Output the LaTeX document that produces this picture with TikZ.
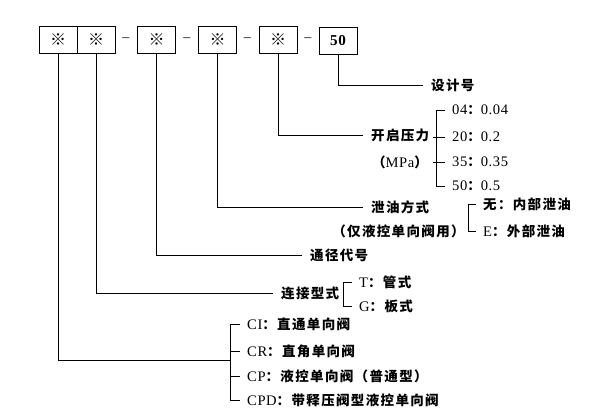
\documentclass[tikz,border=0pt]{standalone}
\usepackage{fontspec}
\setmainfont[LetterSpace=4,Scale=1.08]{Liberation Serif}
\newfontfamily\cjk[LetterSpace=10]{Noto Sans CJK SC}
\usetikzlibrary{positioning}
\newcommand{\zh}[1]{{\cjk\bfseries #1}}
\tikzset{
  cell/.style={draw=black, line width=0.9pt, minimum width=38pt, minimum height=27pt, inner sep=0pt, font=\fontsize{16}{17}\selectfont},
  dsh/.style={inner sep=0pt, font=\fontsize{13}{14}\selectfont},
  lbl/.style={anchor=west, inner xsep=8pt, inner ysep=1pt, font=\fontsize{13.5}{15}\selectfont},
  itm/.style={anchor=west, inner xsep=7pt, inner ysep=1pt, font=\fontsize{13.5}{15}\selectfont},
  ln/.style={draw=black, line width=0.8pt}
}

\begin{document}
\begin{tikzpicture}[x=1pt, y=-1pt]
  \useasboundingbox (0,0) rectangle (592,420);

  % Code boxes
  \node[cell] (b1) at (58,40) {\zh{※}};
  \node[cell] (b2) at (96,40) {\zh{※}};
  \node[cell] (b3) at (156.5,40) {\zh{※}};
  \node[cell] (b4) at (217.5,40) {\zh{※}};
  \node[cell] (b5) at (278,40) {\zh{※}};
  \node[cell, font=\bfseries\fontsize{14}{15}\selectfont] (b6) at (338,40.5) {50};

  % Dashes
  \node[dsh] (d1) at (126,40) {–};
  \node[dsh] (d2) at (187,40) {–};
  \node[dsh] (d3) at (247.5,40) {–};
  \node[dsh] (d4) at (308,40) {–};

  % Design number
  \node[lbl] (sjh) at (423,85) {\zh{设计号}};
  \draw[ln] (b6.south) |- (sjh.west);

  % Cracking pressure
  \node[lbl] (kq) at (363,135) {\zh{开启压力}};
  \node[lbl, anchor=center] (mpa) at (400,162) {\zh{（}MPa\zh{）}};
  \draw[ln] (b5.south) |- (kq.west);
  \node[itm] (p1) at (445,110) {04\zh{：}0.04};
  \node[itm] (p2) at (445,137) {20\zh{：}0.2};
  \node[itm] (p3) at (445,162) {35\zh{：}0.35};
  \node[itm] (p4) at (445,186) {50\zh{：}0.5};
  \draw[ln] (p1.west) -- ++(-9,0) |- (p4.west);
  \draw[ln] (p2.west) -- ++(-12,0);
  \draw[ln] (p3.west) -- ++(-12,0);

  % Drain mode
  \node[lbl] (xy) at (363,207) {\zh{泄油方式}};
  \node[lbl, anchor=center] (xyn) at (398.5,231) {\zh{（仅液控单向阀用）}};
  \draw[ln] (b4.south) |- (xy.west);
  \node[itm] (x1) at (476,204) {\zh{无：内部泄油}};
  \node[itm] (x2) at (476,231) {E\zh{：外部泄油}};
  \draw[ln] (x1.west) -- ++(-8,0) |- (x2.west);

  % Nominal size
  \node[lbl] (tj) at (302,255) {\zh{通径代号}};
  \draw[ln] (b3.south) |- (tj.west);

  % Connection type
  \node[lbl] (lj) at (273,293) {\zh{连接型式}};
  \draw[ln] (b2.south) |- (lj.west);
  \node[itm] (t1) at (352,282) {T\zh{：管式}};
  \node[itm] (t2) at (352,306) {G\zh{：板式}};
  \draw[ln] (t1.west) -- ++(-9,0) |- (t2.west);

  % Valve type
  \node[itm] (c1) at (240,324) {CI\zh{：直通单向阀}};
  \node[itm] (c2) at (240,351) {CR\zh{：直角单向阀}};
  \node[itm] (c3) at (240,376) {CP\zh{：液控单向阀（普通型）}};
  \node[itm] (c4) at (240,400) {CPD\zh{：带释压阀型液控单向阀}};
  \draw[ln] (c1.west) -- ++(-10,0) |- (c4.west);
  \draw[ln] (c2.west) -- ++(-10,0);
  \draw[ln] (c3.west) -- ++(-10,0);
  \coordinate (j1) at (230,360);
  \draw[ln] (b1.south) |- (j1);
\end{tikzpicture}
\end{document}
